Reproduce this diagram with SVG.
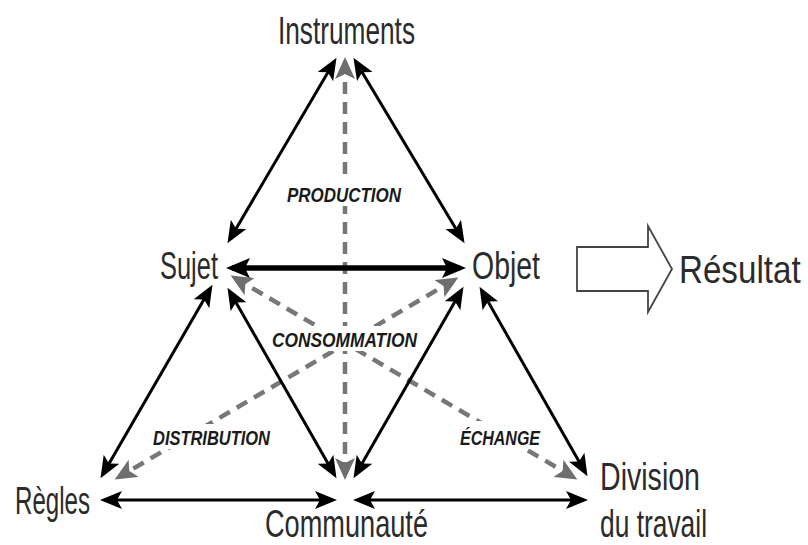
<svg xmlns="http://www.w3.org/2000/svg" width="808" height="545" viewBox="0 0 808 545">
<style>
.t{font-family:"Liberation Sans",Arial,sans-serif;font-size:39px;fill:#2b2b2b}
.l{font-family:"Liberation Sans",Arial,sans-serif;font-size:21px;font-weight:bold;font-style:italic;fill:#1a1a1a}
.b{stroke:#000;stroke-width:3;fill:none;marker-start:url(#ah);marker-end:url(#ah)}
.g{stroke:#777;stroke-width:4.5;fill:none;stroke-dasharray:12 8;marker-start:url(#ag);marker-end:url(#ag)}
</style>
<defs>
<marker id="ah" markerUnits="userSpaceOnUse" markerWidth="24" markerHeight="18" refX="17" refY="9" orient="auto-start-reverse"><path d="M0,0 L22,9 L0,18 L5,9 z" fill="#000"/></marker>
<marker id="ahb" markerUnits="userSpaceOnUse" markerWidth="26" markerHeight="20" refX="18" refY="10" orient="auto-start-reverse"><path d="M0,0 L24,10 L0,20 L5,10 z" fill="#000"/></marker>
<marker id="ag" markerUnits="userSpaceOnUse" markerWidth="24" markerHeight="20" refX="17" refY="10" orient="auto-start-reverse"><path d="M0,0 L22,10 L0,20 L5,10 z" fill="#6e6e6e"/></marker>
</defs>
<rect width="808" height="545" fill="#fff"/>
<g id="connectors">
<line class="g" x1="345" y1="62" x2="345" y2="475"/>
<line class="g" x1="235" y1="278" x2="573" y2="477"/>
<line class="g" x1="454" y1="280" x2="119" y2="477"/>
<line class="b" x1="230" y1="239" x2="334" y2="62"/>
<line class="b" x1="462" y1="239" x2="356" y2="62"/>
<line x1="232" y1="268" x2="460" y2="268" stroke="#000" stroke-width="5.5" marker-start="url(#ahb)" marker-end="url(#ahb)"/>
<line class="b" x1="210" y1="289" x2="103" y2="474"/>
<line class="b" x1="230" y1="292" x2="334" y2="474"/>
<line class="b" x1="461" y1="291" x2="356" y2="474"/>
<line class="b" x1="482" y1="291" x2="585" y2="472"/>
<line class="b" x1="105" y1="500" x2="332" y2="500" stroke-width="3.5"/>
<line class="b" x1="358" y1="500" x2="583" y2="500" stroke-width="3.5"/>
</g>
<g id="labels">
<rect x="283" y="181" width="122" height="25" fill="#fff"/>
<text class="l" x="287" y="202" textLength="114" lengthAdjust="spacingAndGlyphs">PRODUCTION</text>
<rect x="268" y="326" width="153" height="25" fill="#fff"/>
<text class="l" x="272" y="347" textLength="145" lengthAdjust="spacingAndGlyphs">CONSOMMATION</text>
<rect x="149" y="424" width="125" height="25" fill="#fff"/>
<text class="l" x="153" y="445" textLength="117" lengthAdjust="spacingAndGlyphs">DISTRIBUTION</text>
<rect x="456" y="421" width="88" height="28" fill="#fff"/>
<text class="l" x="460" y="445" textLength="80" lengthAdjust="spacingAndGlyphs">ÉCHANGE</text>
</g>
<g id="instruments"><text class="t" x="278" y="44" textLength="137" lengthAdjust="spacingAndGlyphs">Instruments</text></g>
<g id="sujet"><text class="t" x="160" y="279" textLength="58" lengthAdjust="spacingAndGlyphs">Sujet</text></g>
<g id="objet"><text class="t" x="472" y="279" textLength="68" lengthAdjust="spacingAndGlyphs">Objet</text></g>
<g id="regles"><text class="t" x="15" y="514" textLength="75" lengthAdjust="spacingAndGlyphs">Règles</text></g>
<g id="communaute"><text class="t" x="265" y="537" textLength="163" lengthAdjust="spacingAndGlyphs">Communauté</text></g>
<g id="division"><text class="t" x="600" y="490" textLength="100" lengthAdjust="spacingAndGlyphs">Division</text><text class="t" x="600" y="537" textLength="107" lengthAdjust="spacingAndGlyphs">du travail</text></g>
<g id="resultat">
<polygon points="577,247 648,247 648,226 672,269 648,312 648,291 577,291" fill="#fff" stroke="#444" stroke-width="1.8"/>
<text class="t" transform="translate(679,283) scale(0.85,1)" x="0" y="0">Résultat</text>
</g>
</svg>
